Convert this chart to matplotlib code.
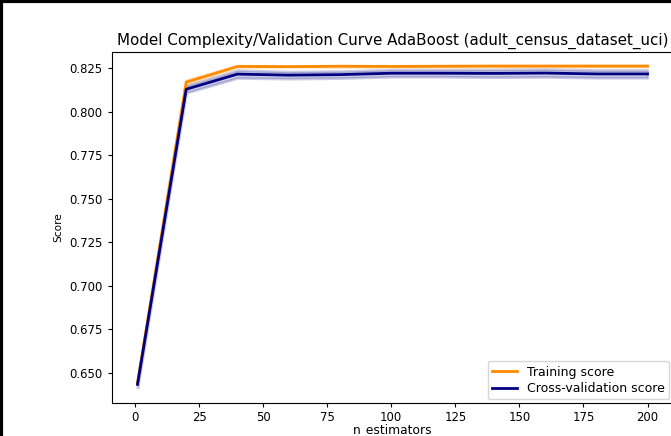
import numpy as np
import matplotlib
matplotlib.use("Agg")
import matplotlib.pyplot as plt

n_estimators = [1, 20, 40, 60, 80, 100, 120, 140, 160, 180, 200]
train_mean = [0.6440, 0.8169, 0.8259, 0.8258, 0.8260, 0.8259, 0.8260, 0.8261, 0.8261, 0.8261, 0.8261]
train_std = [0.0010, 0.0012, 0.0005, 0.0004, 0.0004, 0.0004, 0.0004, 0.0004, 0.0004, 0.0004, 0.0004]
cv_mean = [0.6432, 0.8128, 0.8215, 0.8209, 0.8212, 0.8220, 0.8220, 0.8219, 0.8221, 0.8216, 0.8216]
cv_std = [0.0020, 0.0020, 0.0022, 0.0020, 0.0020, 0.0020, 0.0020, 0.0022, 0.0022, 0.0022, 0.0022]

x = np.array(n_estimators)
tm, ts = np.array(train_mean), np.array(train_std)
cm, cs = np.array(cv_mean), np.array(cv_std)

fig = plt.figure(figsize=(6.71, 4.36), dpi=100)
ax = fig.add_axes([112/671, 33/436, 561/671, 351/436])

ax.plot(x, tm, color="darkorange", lw=2, label="Training score")
ax.fill_between(x, tm - ts, tm + ts, color="darkorange", alpha=0.2, lw=2)
ax.plot(x, cm, color="navy", lw=2, label="Cross-validation score")
ax.fill_between(x, cm - cs, cm + cs, color="navy", alpha=0.2, lw=2)

ax.set_title("Model Complexity/Validation Curve AdaBoost (adult_census_dataset_uci)",
             fontsize=10.9, pad=5)
ax.set_xlabel("n_estimators", fontsize=8.8, labelpad=0)
ax.set_ylabel("Score", fontsize=7.6)
ax.set_xticks([0, 25, 50, 75, 100, 125, 150, 175, 200])
ax.set_yticks([0.650, 0.675, 0.700, 0.725, 0.750, 0.775, 0.800, 0.825])
ax.tick_params(labelsize=8.4, length=3.2)
ax.tick_params(axis="x", pad=2.2)
ax.set_ylim(0.6325, 0.8342)
ax.legend(loc="lower right", fontsize=9, borderaxespad=0.3,
          labelspacing=0.25, borderpad=0.35)

# black frame lines at left and top of the picture
fig.add_artist(plt.Line2D([0.002, 0.002], [0, 1], color="black", lw=3, transform=fig.transFigure))
fig.add_artist(plt.Line2D([0, 1], [0.997, 0.997], color="black", lw=3, transform=fig.transFigure))

fig.savefig("out.png", dpi=100)
